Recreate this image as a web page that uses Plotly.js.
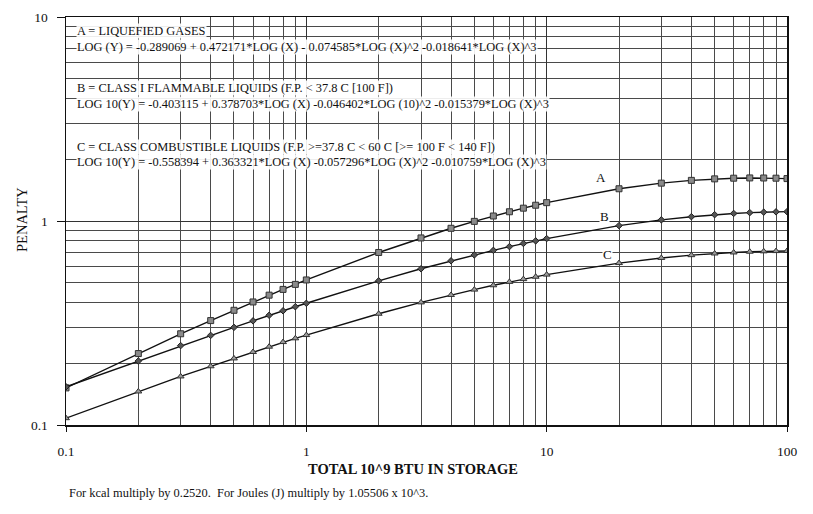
<!DOCTYPE html>
<html>
<head>
<meta charset="utf-8">
<script src="https://cdn.plot.ly/plotly-3.0.1.min.js"></script>
<style>html,body{margin:0;padding:0;background:#fff;}#chart{width:813px;height:514px;}</style>
</head>
<body>
<div id="chart"></div>
<script>
// Total 10^9 BTU in storage
const storage = [0.1,0.2,0.3,0.4,0.5,0.6,0.7,0.8,0.9,1,2,3,4,5,6,7,8,9,10,20,30,40,50,60,70,80,90,100];
// A = Liquefied gases
const penaltyA = [0.152,0.224,0.280,0.325,0.365,0.401,0.433,0.462,0.489,0.514,0.701,0.826,0.921,0.996,1.058,1.110,1.156,1.195,1.230,1.439,1.533,1.582,1.609,1.621,1.626,1.625,1.621,1.614];
// B = Class I flammable liquids
const penaltyB = [0.154,0.206,0.245,0.275,0.301,0.324,0.345,0.363,0.380,0.395,0.509,0.583,0.638,0.682,0.718,0.749,0.776,0.799,0.820,0.949,1.013,1.050,1.074,1.089,1.099,1.105,1.109,1.111];
// C = Class combustible liquids
const penaltyC = [0.108,0.146,0.173,0.194,0.212,0.228,0.242,0.255,0.266,0.276,0.351,0.399,0.434,0.461,0.484,0.503,0.519,0.533,0.546,0.622,0.659,0.680,0.693,0.701,0.707,0.710,0.712,0.713];

const xTickVals = [0.1,1,10,100];
const xTickText = ["0.1","1","10","100"];
const yTickVals = [0.1,1,10];
const yTickText = ["0.1","1","10"];

const serif = "Liberation Serif";
const gridMinor = "#4a4a4a";

const traces = [
  {x: storage, y: penaltyA, mode: "lines+markers", name: "A",
   line: {color: "#111", width: 1.4},
   marker: {symbol: "square", size: 6, color: "#8a8a8a", line: {color: "#333", width: 1}}},
  {x: storage, y: penaltyB, mode: "lines+markers", name: "B",
   line: {color: "#111", width: 1.4},
   marker: {symbol: "diamond", size: 5, color: "#555", line: {color: "#222", width: 1}}},
  {x: storage, y: penaltyC, mode: "lines+markers", name: "C",
   line: {color: "#111", width: 1.4},
   marker: {symbol: "triangle-up", size: 6, color: "#9a9a9a", line: {color: "#333", width: 1}}}
];

function px(xp){ return (xp-66)/721; }
function py(yp){ return (425-yp)/408; }

const texts = [
  ["A = LIQUEFIED GASES", 31],
  ["LOG (Y) = -0.289069 + 0.472171*LOG (X) - 0.074585*LOG (X)^2 -0.018641*LOG (X)^3", 47],
  ["B = CLASS I FLAMMABLE LIQUIDS (F.P. &lt; 37.8 C [100 F])", 88],
  ["LOG 10(Y) = -0.403115 + 0.378703*LOG (X) -0.046402*LOG (10)^2 -0.015379*LOG (X)^3", 104],
  ["C = CLASS COMBUSTIBLE LIQUIDS (F.P. &gt;=37.8 C &lt; 60 C [&gt;= 100 F &lt; 140 F])", 147],
  ["LOG 10(Y) = -0.558394 + 0.363321*LOG (X) -0.057296*LOG (X)^2 -0.010759*LOG (X)^3", 162]
];

const annotations = texts.map(t => ({
  text: t[0], xref: "paper", yref: "paper", x: px(76), y: py(t[1]),
  xanchor: "left", yanchor: "middle", showarrow: false,
  font: {family: serif, size: 12.4, color: "#111"},
  bgcolor: "rgba(255,255,255,0.9)", borderpad: 0
}));

[["A", 601, 177], ["B", 604, 216], ["C", 607, 255]].forEach(l => {
  annotations.push({text: l[0], xref: "paper", yref: "paper", x: px(l[1]), y: py(l[2]),
    xanchor: "center", yanchor: "middle", showarrow: false,
    font: {family: serif, size: 13, color: "#111"}, bgcolor: "#fff", borderpad: 0});
});

annotations.push({text: "<b>TOTAL 10^9 BTU IN STORAGE</b>", xref: "paper", yref: "paper",
  x: px(413), y: py(469), xanchor: "center", yanchor: "middle", showarrow: false,
  font: {family: serif, size: 14.5, color: "#111"}});
annotations.push({text: "PENALTY", xref: "paper", yref: "paper", textangle: -90,
  x: px(22), y: py(220), xanchor: "center", yanchor: "middle", showarrow: false,
  font: {family: serif, size: 14.5, color: "#111"}});
annotations.push({text: "For kcal multiply by 0.2520.  For Joules (J) multiply by 1.05506 x 10^3.",
  xref: "paper", yref: "paper", x: px(67), y: py(493), xanchor: "left", yanchor: "middle",
  showarrow: false, font: {family: serif, size: 12.4, color: "#111"}});

const layout = {
  width: 813, height: 514,
  margin: {l: 66, r: 26, t: 17, b: 89},
  paper_bgcolor: "#fff", plot_bgcolor: "#fff",
  showlegend: false,
  font: {family: serif, size: 13, color: "#111"},
  xaxis: {
    type: "log", range: [-1, 2],
    tickmode: "array", tickvals: xTickVals, ticktext: xTickText,
    ticks: "outside", ticklen: 5, tickcolor: "#111", ticklabelstandoff: 8,
    showgrid: true, gridcolor: "#333", gridwidth: 1,
    showline: true, linecolor: "#111", linewidth: 1.5, mirror: true,
    zeroline: false,
    minor: {dtick: "D1", showgrid: true, gridcolor: gridMinor, gridwidth: 1, ticks: ""},
    tickfont: {family: serif, size: 13.5, color: "#111"}
  },
  yaxis: {
    type: "log", range: [-1, 1],
    tickmode: "array", tickvals: yTickVals, ticktext: yTickText,
    ticks: "outside", ticklen: 8, tickcolor: "#111", ticklabelstandoff: 6,
    showgrid: true, gridcolor: "#333", gridwidth: 1,
    showline: true, linecolor: "#111", linewidth: 1.5, mirror: true,
    zeroline: false,
    minor: {dtick: "D1", showgrid: true, gridcolor: gridMinor, gridwidth: 1, ticks: ""},
    tickfont: {family: serif, size: 13.5, color: "#111"}
  },
  annotations: annotations
};

Plotly.newPlot("chart", traces, layout, {displayModeBar: false, staticPlot: true});
</script>
</body>
</html>
